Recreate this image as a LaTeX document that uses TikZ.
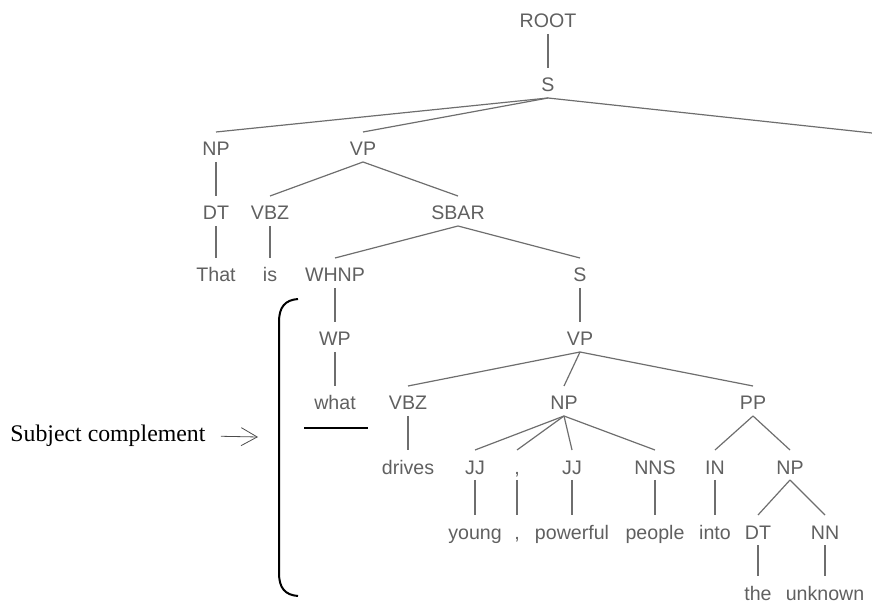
\documentclass[tikz,border=0pt]{standalone}
\usepackage{fontspec}
\setmainfont{Liberation Sans}
\newfontfamily\serifface{Liberation Serif}
\usepackage{xcolor}
\usepackage{tikz}
\usetikzlibrary{positioning, arrows.meta, calc}

\definecolor{treegray}{RGB}{96,96,96}
\definecolor{linegray}{RGB}{110,110,110}

\begin{document}
\begin{tikzpicture}[x=0.5pt, y=-0.5pt,
    tag/.style={anchor=base, inner sep=0pt, outer sep=0pt, text height=12pt, text depth=3pt,
      text=treegray, font=\fontsize{9.8}{11}\selectfont},
    branch/.style={draw=linegray, line width=0.6pt}]
        \useasboundingbox (0,0) rectangle (872,603);

        \foreach \n/\x/\y/\t in {root/548/28/ROOT, sTop/548/92/S,
            npThat/216/156/NP, vpIs/363/156/VP,
            dtThat/216/220/DT, vbzIs/270/220/VBZ, sbar/458/220/SBAR,
            wThat/216/282/That, wIs/270/282/is, whnp/335/282/WHNP, sRel/580/282/S,
            wp/335/346/WP, vpRel/580/346/VP,
            wWhat/335/410/what, vbzDrives/408/410/VBZ, npPeople/564/410/NP, ppInto/753/410/PP,
            wDrives/408/474/drives, jjYoung/475/474/JJ, tagComma/517/474/{,}, jjPowerful/572/474/JJ,
            nnsPeople/655/474/NNS, inInto/715/474/IN, npUnknown/790/474/NP,
            wYoung/475/539/young, wComma/517/539/{,}, wPowerful/572/539/powerful,
            wPeople/655/539/people, wInto/715/539/into, dtThe/758/539/DT, nnUnknown/825/539/NN,
            wThe/758/600/the, wUnknown/825/600/unknown} {
          \node[tag] (\n) at (\x,\y) {\t};
        }

        \foreach \a/\b in {root/sTop, sTop/npThat, sTop/vpIs, npThat/dtThat, dtThat/wThat,
            vpIs/vbzIs, vpIs/sbar, vbzIs/wIs, sbar/whnp, sbar/sRel, whnp/wp, wp/wWhat,
            sRel/vpRel, vpRel/vbzDrives, vpRel/npPeople, vpRel/ppInto, vbzDrives/wDrives,
            npPeople/jjYoung, npPeople/tagComma, npPeople/jjPowerful, npPeople/nnsPeople,
            jjYoung/wYoung, tagComma/wComma, jjPowerful/wPowerful, nnsPeople/wPeople,
            ppInto/inInto, ppInto/npUnknown, inInto/wInto,
            npUnknown/dtThe, npUnknown/nnUnknown, dtThe/wThe, nnUnknown/wUnknown} {
          \draw[branch] (\a.south) -- (\b.north);
        }
        \coordinate (sRight) at (872,133);
        \draw[branch] (sTop.south) -- (sRight);

        \node[anchor=base west, inner sep=0pt, font=\serifface\fontsize{11.9}{14}\selectfont] (subj) at (10,442) {Subject complement};
        \coordinate (arrTip) at (258,437);
        \draw[-{Straight Barb[length=8pt,width=9pt]}, line width=0.4pt, black!70] ([xshift=7.5pt]subj.east) -- (arrTip);

        \draw[line width=1pt] (298,299) .. controls (285,300) and (279,307) .. (279,322)
          -- (279,573) .. controls (279,588) and (285,595) .. (298,596);
        \draw[line width=0.8pt] (304,428) -- (368,428);
      \end{tikzpicture}
\end{document}
